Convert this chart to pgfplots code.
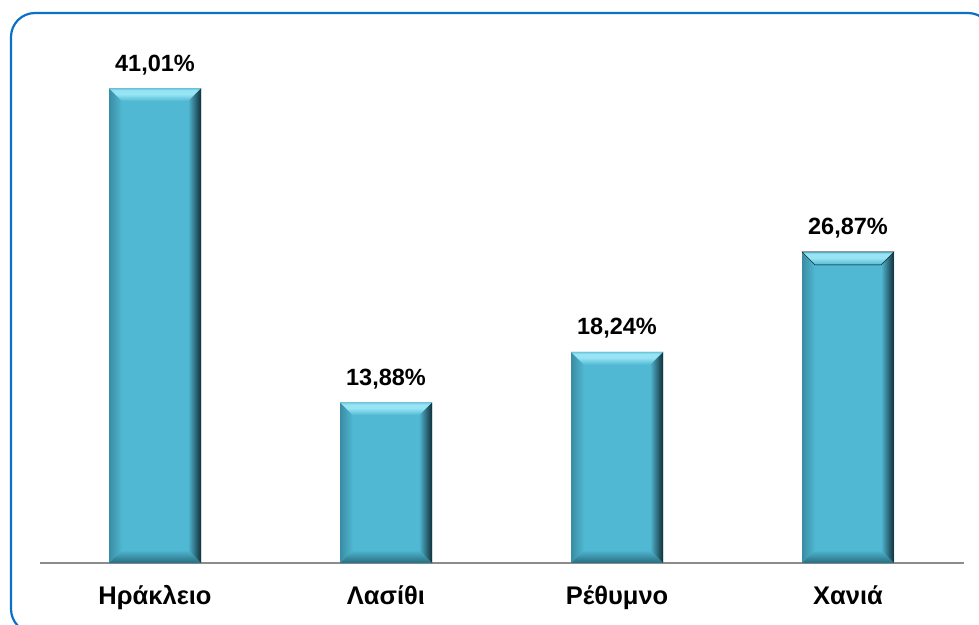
\documentclass[border=0pt]{standalone}
\usepackage{fontspec}
\setmainfont{Liberation Sans}
\usepackage{pgfplots}
\pgfplotsset{compat=1.18}
\definecolor{barmid}{RGB}{80,184,210}
\definecolor{barbright}{RGB}{150,228,244}
\definecolor{baredge}{RGB}{108,196,218}
\definecolor{barleftedge}{RGB}{58,140,164}
\definecolor{barrightedge}{RGB}{18,46,56}
\definecolor{barbotedge}{RGB}{40,108,128}
\definecolor{bordercol}{RGB}{10,112,200}
\definecolor{axisgray}{RGB}{140,140,140}
\pgfdeclareverticalshading{topbev}{100bp}{color(0bp)=(barmid); color(25bp)=(barmid); color(52bp)=(barbright); color(67bp)=(barbright); color(75bp)=(baredge); color(100bp)=(baredge)}
\pgfdeclarehorizontalshading{rightbev}{100bp}{color(0bp)=(barmid); color(25bp)=(barmid); color(75bp)=(barrightedge); color(100bp)=(barrightedge)}
\pgfdeclarehorizontalshading{leftbev}{100bp}{color(0bp)=(barleftedge); color(25bp)=(barleftedge); color(75bp)=(barmid); color(100bp)=(barmid)}
\pgfdeclareverticalshading{botbev}{100bp}{color(0bp)=(barbotedge); color(25bp)=(barbotedge); color(75bp)=(barmid); color(100bp)=(barmid)}
% bevel drawn as a plot mark at the top centre of each bar; \h is the bar value
\pgfdeclareplotmark{bevel}{%
  \pgfmathsetmacro\hh{\h/45*521}%
  \begin{pgfscope}
  \pgfpathmoveto{\pgfqpoint{-46pt}{0pt}}%
  \pgfpathlineto{\pgfpoint{-46pt}{-\hh pt}}%
  \pgfpathlineto{\pgfpoint{-33pt}{-\hh pt+13pt}}%
  \pgfpathlineto{\pgfpoint{-33pt}{-13pt}}%
  \pgfpathclose
  \pgfshadepath{leftbev}{0}%
  \end{pgfscope}
  \begin{pgfscope}
  \pgfpathmoveto{\pgfpoint{-46pt}{-\hh pt}}%
  \pgfpathlineto{\pgfpoint{46pt}{-\hh pt}}%
  \pgfpathlineto{\pgfpoint{33pt}{-\hh pt+13pt}}%
  \pgfpathlineto{\pgfpoint{-33pt}{-\hh pt+13pt}}%
  \pgfpathclose
  \pgfshadepath{botbev}{0}%
  \end{pgfscope}
  \begin{pgfscope}
  \pgfpathmoveto{\pgfqpoint{46pt}{0pt}}%
  \pgfpathlineto{\pgfpoint{46pt}{-\hh pt}}%
  \pgfpathlineto{\pgfpoint{33pt}{-\hh pt+13pt}}%
  \pgfpathlineto{\pgfpoint{33pt}{-13pt}}%
  \pgfpathclose
  \pgfshadepath{rightbev}{0}%
  \end{pgfscope}
  \begin{pgfscope}
  \pgfpathmoveto{\pgfqpoint{-46pt}{0pt}}%
  \pgfpathlineto{\pgfqpoint{46pt}{0pt}}%
  \pgfpathlineto{\pgfqpoint{33pt}{-13pt}}%
  \pgfpathlineto{\pgfqpoint{-33pt}{-13pt}}%
  \pgfpathclose
  \pgfshadepath{topbev}{0}%
  \end{pgfscope}
}
\pgfplotstableread{
x  y
0  41.01
1  13.88
2  18.24
3  26.87
}\datatable
\begin{document}
\begin{tikzpicture}
\path[use as bounding box] (0pt,0pt) rectangle (979pt,624pt);
\draw[bordercol, line width=2.2pt, rounded corners=24pt] (11pt,611pt) rectangle (992pt,-9pt);
\begin{axis}[
  at={(39.5pt,61pt)}, anchor=south west,
  scale only axis, width=924pt, height=521pt,
  xmin=-0.5, xmax=3.5, ymin=0, ymax=45,
  axis x line*=bottom, axis y line=none,
  x axis line style={axisgray, line width=1.6pt, -},
  axis on top,
  clip=false,
  xtick={0,1,2,3},
  xticklabels={Ηράκλειο, Λασίθι, Ρέθυμνο, Χανιά},
  xtick style={draw=none},
  ytick=\empty,
  xticklabel style={font=\fontsize{25.5}{30}\selectfont\bfseries, anchor=base, yshift=-41pt},
  /pgf/number format/assume math mode=true,
]
\addplot[ybar, bar width=92pt, bar shift=0pt, fill=barmid, draw=none,
  nodes near coords={\pgfmathprintnumber[fixed,fixed zerofill,precision=2,use comma]{\pgfplotspointmeta}\%},
  every node near coord/.append style={font=\fontsize{23.5}{28}\selectfont\bfseries, text=black, anchor=base, yshift=17pt},
] table[x=x, y=y] {\datatable};
\addplot[only marks, mark=bevel, visualization depends on={rawy \as \h}] table[x=x, y=y] {\datatable};
\end{axis}
\end{tikzpicture}
\end{document}
